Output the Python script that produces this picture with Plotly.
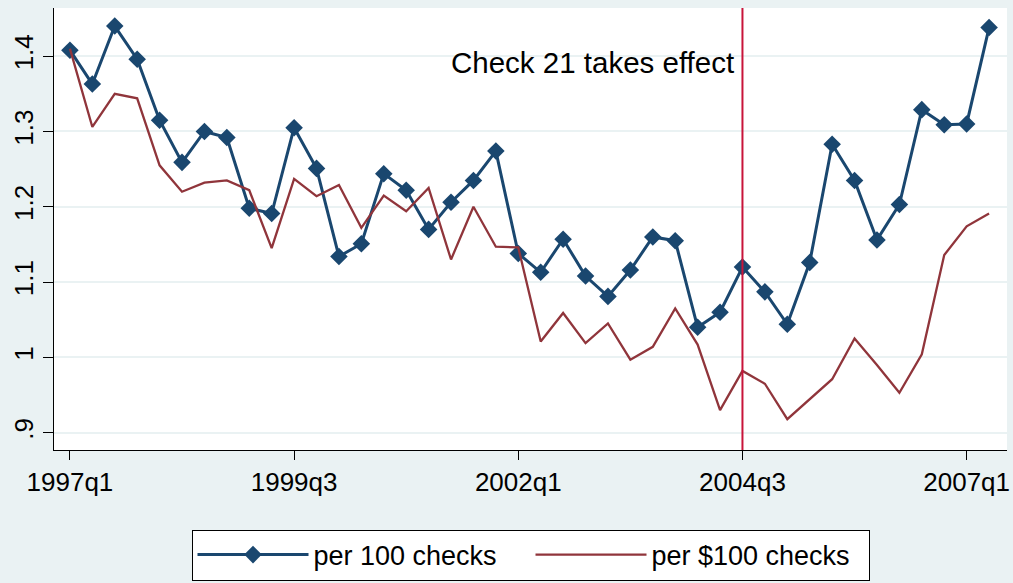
import plotly.graph_objects as go

quarters = [f"{y}q{q}" for y in range(1997, 2008) for q in range(1, 5)][:42]

per_100_checks = [1.408, 1.363, 1.440, 1.396, 1.315, 1.259, 1.300, 1.292, 1.198, 1.191,
                  1.305, 1.251, 1.134, 1.151, 1.244, 1.222, 1.170, 1.206, 1.235, 1.274,
                  1.138, 1.113, 1.157, 1.108, 1.081, 1.116, 1.160, 1.155, 1.040, 1.060,
                  1.120, 1.087, 1.044, 1.126, 1.283, 1.235, 1.156, 1.203, 1.329, 1.309,
                  1.310, 1.438]

per_100_dollar_checks = [1.410, 1.306, 1.350, 1.344, 1.255, 1.220, 1.232, 1.235, 1.222, 1.145,
                         1.237, 1.214, 1.229, 1.172, 1.215, 1.194, 1.225, 1.130, 1.200, 1.147,
                         1.146, 1.021, 1.059, 1.019, 1.045, 0.997, 1.014, 1.065, 1.017, 0.930,
                         0.982, 0.965, 0.918, 0.944, 0.971, 1.025, 0.990, 0.953, 1.004, 1.136,
                         1.174, 1.191]

x_tick_labels = ["1997q1", "1999q3", "2002q1", "2004q3", "2007q1"]
y_tick_vals = [0.9, 1.0, 1.1, 1.2, 1.3, 1.4]
y_tick_text = [".9", "1", "1.1", "1.2", "1.3", "1.4"]
event_quarter = "2004q3"
event_label = "Check 21 takes effect"

x = list(range(len(quarters)))
ev = quarters.index(event_quarter)

BLUE = "#1A476F"
RED = "#90353B"
BG = "#EAF2F3"
FONT = "Liberation Sans, Arial, sans-serif"

fig = go.Figure()
fig.add_trace(go.Scatter(
    x=x, y=per_100_checks, mode="lines+markers", name="per 100 checks",
    line=dict(color=BLUE, width=3),
    marker=dict(symbol="diamond", size=13.5, color=BLUE),
))
fig.add_trace(go.Scatter(
    x=x, y=per_100_dollar_checks, mode="lines", name="per $100 checks",
    line=dict(color=RED, width=2.3),
))

fig.add_shape(type="line", xref="x", yref="paper", x0=ev, x1=ev, y0=0, y1=1,
              line=dict(color="#C8143A", width=2))
fig.add_annotation(x=ev, y=1.392, xref="x", yref="y", text=event_label,
                   showarrow=False, xanchor="right", yanchor="middle", xshift=-6,
                   font=dict(size=29.5, color="black", family=FONT))

fig.update_layout(
    width=1013, height=583,
    paper_bgcolor=BG, plot_bgcolor="white",
    margin=dict(l=54, r=6, t=8, b=133, autoexpand=False),
    font=dict(family=FONT, color="black"),
    showlegend=True,
    legend=dict(orientation="h", x=0.5, xanchor="center", y=-0.18, yanchor="top",
                bgcolor="white", bordercolor="black", borderwidth=1,
                font=dict(size=27, color="black"), itemwidth=111,
                entrywidth=212, entrywidthmode="pixels"),
)
fig.update_xaxes(
    range=[-0.71, 41.8], tickmode="array",
    tickvals=[quarters.index(q) for q in x_tick_labels], ticktext=x_tick_labels,
    ticks="outside", ticklen=9, tickcolor="black", tickwidth=1, automargin=False,
    showline=True, linecolor="black", linewidth=1, showgrid=False, zeroline=False,
    tickfont=dict(size=26, color="black"),
)
fig.update_yaxes(
    range=[0.877, 1.464], tickmode="array", tickvals=y_tick_vals, ticktext=y_tick_text,
    ticks="outside", ticklen=10, tickcolor="black", tickwidth=1, tickangle=-90,
    automargin=False,
    showline=True, linecolor="black", linewidth=1, showgrid=True, gridcolor=BG, gridwidth=2,
    zeroline=False, tickfont=dict(size=26, color="black"),
)

fig.write_html("out.html", config={"displayModeBar": False},
               post_script="document.body.style.margin='0';document.body.style.overflow='hidden';")
